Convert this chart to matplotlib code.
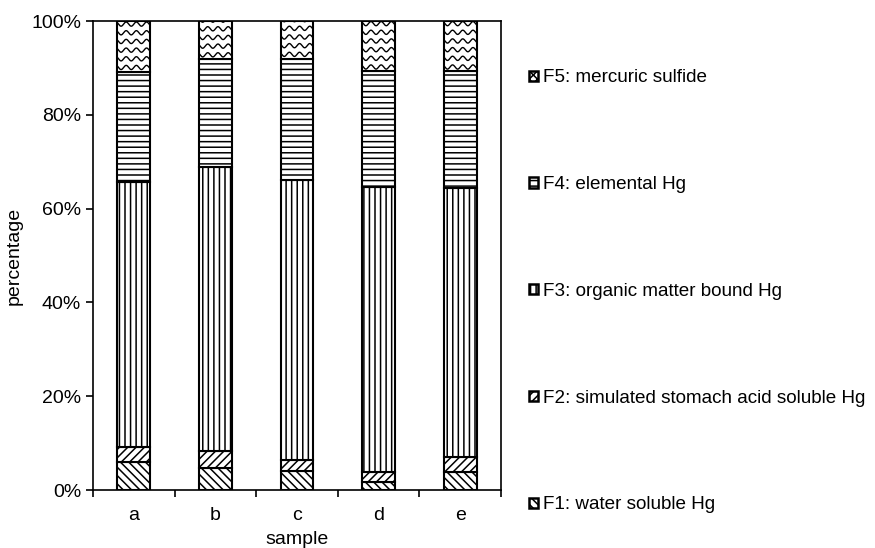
import numpy as np
import matplotlib
matplotlib.use("Agg")
import matplotlib.pyplot as plt
from matplotlib.patches import Patch
from matplotlib.ticker import PercentFormatter

plt.rcParams['font.family'] = ['Liberation Sans', 'DejaVu Sans']
plt.rcParams['hatch.linewidth'] = 1.1

samples = ['a', 'b', 'c', 'd', 'e']
# percentage of each fraction per sample
f1 = [5.9, 4.6, 4.0, 1.8, 3.9]
f2 = [3.2, 3.65, 2.5, 2.0, 3.1]
f3 = [56.6, 60.65, 59.7, 60.8, 57.3]
f4 = [23.5, 23.0, 25.8, 24.7, 25.0]
f5 = [10.8, 8.1, 8.0, 10.7, 10.7]
labels = ['F1: water soluble Hg',
          'F2: simulated stomach acid soluble Hg',
          'F3: organic matter bound Hg',
          'F4: elemental Hg',
          'F5: mercuric sulfide']
hatches = ['\\\\\\\\', '////', '|||', '---', None]

fig = plt.figure(figsize=(8.75, 5.48), dpi=100)
ax = fig.add_axes([0.1063, 0.1058, 0.4663, 0.8558])

x = np.arange(len(samples))
width = 0.4
bottom = np.zeros(len(samples))
series = [f1, f2, f3, f4, f5]
containers = []
for vals, h in zip(series, hatches):
    bars = ax.bar(x, vals, width, bottom=bottom, color='white', edgecolor='black',
                  linewidth=1.5, hatch=h, zorder=2)
    containers.append(bars)
    bottom += np.array(vals)

# wavy pattern for F5, clipped to each bar
tt = np.linspace(-0.25, 0.25, 200)
for bar in containers[4]:
    x0 = bar.get_x() + bar.get_width() / 2
    y0 = bar.get_y()
    for k in np.arange(y0 + 0.9, y0 + bar.get_height() + 2, 1.85):
        ln, = ax.plot(x0 + tt, k + 0.45 * np.sin(2 * np.pi * tt / 0.125),
                      color='black', lw=1.0, zorder=2.5)
        ln.set_clip_path(bar)

ax.set_xlim(-0.5, len(samples) - 0.5)
ax.set_ylim(0, 100)
ax.yaxis.set_major_formatter(PercentFormatter(decimals=0))
ax.set_yticks(np.arange(0, 101, 20))
ax.set_xticks(np.arange(-0.5, len(samples), 1))
ax.set_xticklabels([])
ax.set_xticks(x, minor=True)
ax.set_xticklabels(samples, minor=True)
ax.tick_params(axis='x', which='minor', length=0, pad=12, labelsize=14)
ax.tick_params(axis='both', which='major', direction='out', length=5, width=1.2, labelsize=14)
for s in ax.spines.values():
    s.set_linewidth(1.2)
ax.set_xlabel('sample', fontsize=14, labelpad=5)
ax.set_ylabel('percentage', fontsize=14, labelpad=6)

handles = []
for lab, h in zip(labels, hatches):
    handles.append(Patch(facecolor='white', edgecolor='black', hatch=h if h else 'xxxx',
                         linewidth=1.8, label=lab))
handles = handles[::-1]
leg = fig.legend(handles=handles, loc='upper left', bbox_to_anchor=(0.596, 0.887),
                 frameon=False, fontsize=13.6, handlelength=0.45, handleheight=0.45,
                 handletextpad=0.3, labelspacing=4.75, borderaxespad=0)

fig.savefig('out.png', dpi=100)
